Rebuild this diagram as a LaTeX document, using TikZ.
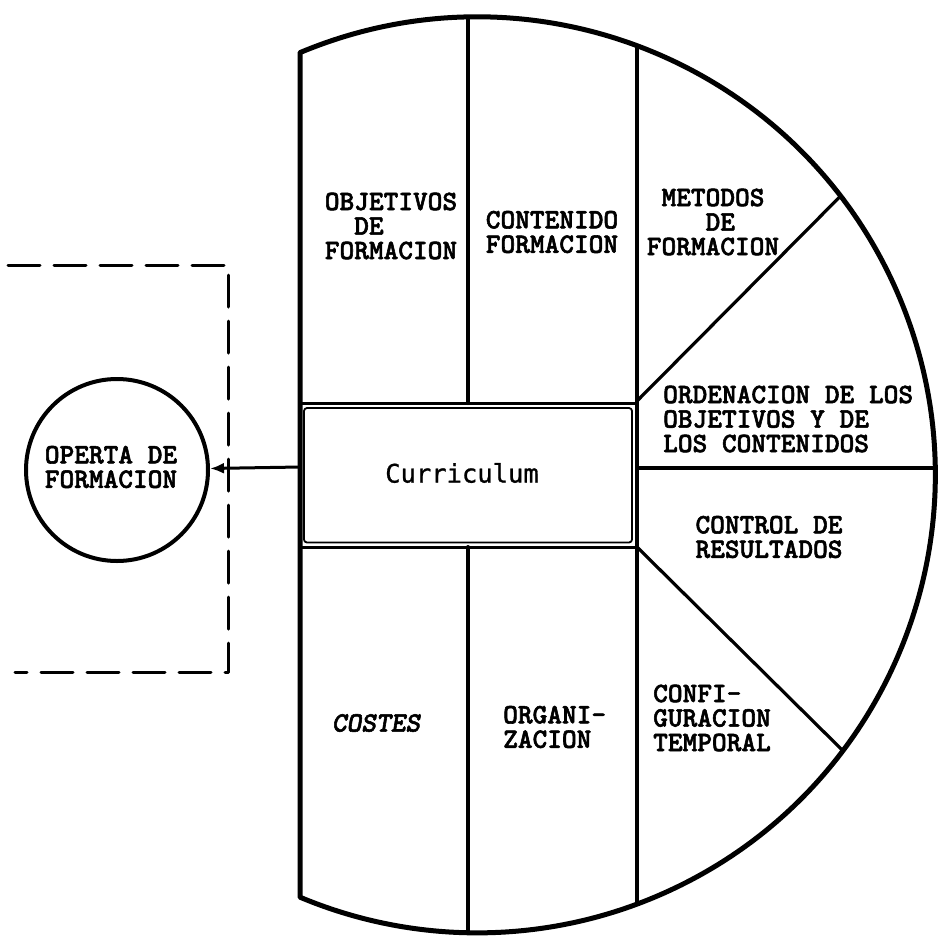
\documentclass[tikz,border=0pt]{standalone}
\usepackage{fontspec}
\usetikzlibrary{arrows.meta}
\newfontfamily\cur{DejaVu Sans Mono}[FakeBold=1]
\newfontfamily\tw{lmmonolt10-bold.otf}[FakeBold=2]
\newfontfamily\twi{lmmonolt10-boldoblique.otf}[FakeBold=2]
\begin{document}
\begin{tikzpicture}[x=1pt,y=-1pt,line join=round,line cap=round,
  outline/.style={line width=5pt},
  divline/.style={line width=4pt},
  slant/.style={line width=3.2pt},
  lbl/.style={font=\tw\fontsize{28}{24.5}\selectfont,inner sep=0pt,align=left},
  dashbox/.style={line width=3pt,dash pattern=on 32pt off 14pt}]
\useasboundingbox (0,0) rectangle (940,938);
% outer outline (circle segment closed by the left line)
\draw[outline] (300,52.6) arc[start angle=-112.77,end angle=112.77,radius=458] -- cycle;
% vertical dividers
\draw[divline] (468,17.1) -- (468,403);
\draw[divline] (468,547) -- (468,932.9);
\draw[divline] (637,45.9) -- (637,904.1);
% right-hand dividers
\draw[slant] (637,401) -- (840.4,196.2);
\draw[slant] (637,468) -- (934.9,468);
\draw[slant] (637,547) -- (842.8,750.6);
% curriculum double box
\draw[line width=3pt] (300,403) -- (637,403);
\draw[line width=3pt] (300,547) -- (637,547);
\draw[line width=1.8pt,rounded corners=3pt] (304,408) rectangle (632,542.5);
\node[inner sep=0pt,font=\cur\fontsize{25.5}{27}\selectfont] (cur) at (462,473) {Curriculum};
% dashed frame
\draw[dashbox] (8,265) -- (228,265) -- (228,672) -- (15,672);
% offer circle
\node[draw,circle,line width=4pt,minimum size=182pt,inner sep=0pt] (ofer) at (117,470) {};
\node[lbl] (ofertxt) at (111,467) {OPERTA DE\\FORMACION};
\coordinate (src) at (300,467);
\draw[line width=3pt,-{Latex[length=14pt,width=11pt]}] (src) -- (ofer);
% labels
\node[lbl] (obj) at (391,226) {OBJETIVOS\\\phantom{OB}DE\\FORMACION};
\node[lbl] (cont) at (552,232) {CONTENIDO\\FORMACION};
\node[lbl] (met) at (713,222) {\phantom{F}METODOS\\\phantom{FORM}DE\\FORMACION};
\node[lbl,anchor=west] (ord) at (663,419) {ORDENACION DE LOS\\OBJETIVOS Y DE\\LOS CONTENIDOS};
\node[lbl] (ctrl) at (769,537) {CONTROL DE\\RESULTADOS};
\node[lbl,anchor=west] (conf) at (653,718) {CONFI-\\GURACION\\TEMPORAL};
\node[lbl,anchor=west] (org) at (503,727) {ORGANI-\\ZACION};
\node[lbl,font=\twi\fontsize{28}{24.5}\selectfont] (cost) at (376,723) {COSTES};
\end{tikzpicture}
\end{document}
